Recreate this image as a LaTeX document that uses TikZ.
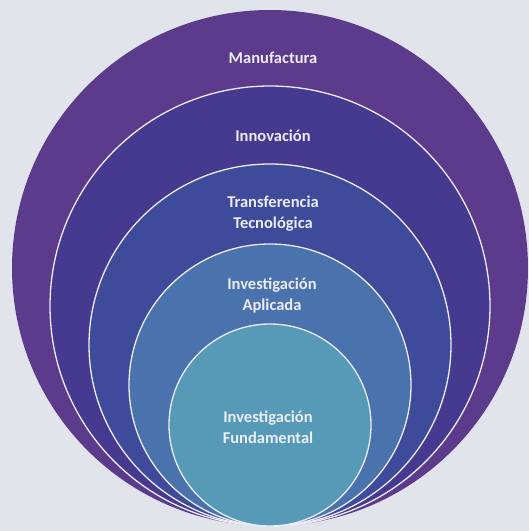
\documentclass[tikz,border=0pt]{standalone}
\usepackage{fontspec}
\setmainfont{Carlito}
\usetikzlibrary{calc}

\definecolor{fondo}{RGB}{226,228,235}
\definecolor{anilloA}{RGB}{92,58,140}
\definecolor{anilloB}{RGB}{70,58,144}
\definecolor{anilloC}{RGB}{62,74,154}
\definecolor{anilloD}{RGB}{74,114,172}
\definecolor{anilloE}{RGB}{86,154,184}
\definecolor{texto}{RGB}{236,236,244}

\begin{document}
\begin{tikzpicture}[x=1pt, y=1pt,
    borde/.style={draw=texto, line width=1.3pt},
    etiqueta/.style={text=texto, align=center, font=\bfseries\fontsize{16.5}{21}\selectfont}]
  % fondo
  \fill[fondo] (0,0) rectangle (529,531);
  \useasboundingbox (0,0) rectangle (529,531);
  % punto de tangencia comun (abajo)
  \coordinate (T) at (270,5);
  % circulo exterior, sin borde blanco
  \fill[anilloA] ($(T)+(0,258)$) circle (258pt);
  % circulos interiores
  \foreach \r/\c in {220/anilloB, 181/anilloC, 141/anilloD, 101/anilloE}
    \filldraw[borde, fill=\c] ($(T)+(0,\r)$) circle (\r pt);
  % etiquetas
  \node[etiqueta] (manuf)  at (273,473) {Manufactura};
  \node[etiqueta] (innov)  at (273,395) {Innovación};
  \node[etiqueta] (transf) at (273,317) {Transferencia\\Tecnológica};
  \node[etiqueta] (aplic)  at (272,236) {Investigación\\Aplicada};
  \node[etiqueta] (fund)   at (268,104) {Investigación\\Fundamental};
\end{tikzpicture}
\end{document}
